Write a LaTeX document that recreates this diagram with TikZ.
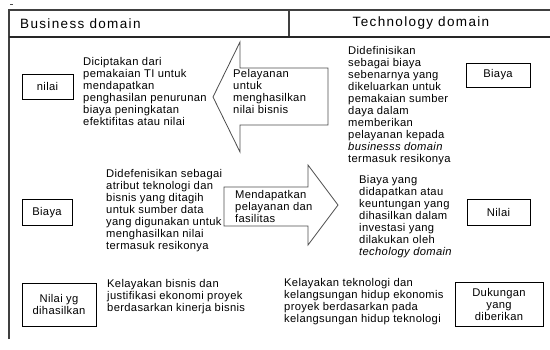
\documentclass[tikz,border=0pt]{standalone}
\usepackage{fontspec}
\setmainfont{Liberation Sans}
\begin{document}
\begin{tikzpicture}[x=1pt,y=-1pt,
  bodyfont/.style={font=\fontsize{11.2}{12}\selectfont\addfontfeatures{LetterSpace=3}},
  txt/.style={bodyfont, inner sep=0pt, align=left, anchor=north west},
  hdr/.style={inner sep=0pt, font=\fontsize{13.5}{14}\selectfont\addfontfeatures{LetterSpace=10}},
  lbox/.style={bodyfont, draw=black, line width=0.8pt, inner sep=0pt, align=center},
  frameline/.style={draw=black!75, line width=1.2pt},
  arrowshape/.style={draw=black!70, line width=0.8pt, line join=miter}]
\useasboundingbox (0,0) rectangle (550,349);
% frame
\draw[frameline] (9,339) -- (9,10) -- (550,10);
\draw[draw=black!85, line width=2pt] (9,36.5) -- (550,36.5);
\draw[frameline] (289,10) -- (289,36);
\draw[black!70, line width=0.8pt] (10,4) -- (13,4);
% headers
\node[hdr, anchor=west] (bd) at (20,23.5) {Business domain};
\node[hdr] (td) at (421,23.5) {Technology domain};
% boxes
\node[lbox, minimum width=51, minimum height=25] (nilai1) at (47.5,86.5) {nilai};
\node[lbox, minimum width=64, minimum height=24] (biaya1) at (498,75) {Biaya};
\node[lbox, minimum width=50, minimum height=26] (biaya2) at (47,212.5) {Biaya};
\node[lbox, minimum width=63, minimum height=26] (nilai2) at (498.5,212.5) {Nilai};
\node[lbox, minimum width=74, minimum height=43] (nilaiyg) at (59,304.5) {Nilai yg\\dihasilkan};
\node[lbox, minimum width=88, minimum height=44] (dukungan) at (499,304) {Dukungan\\yang\\diberikan};
% arrows
\draw[arrowshape] (328,68) -- (240,68) -- (240,42) -- (213,97) -- (240,152) -- (240,125) -- (328,125) -- cycle;
\draw[arrowshape] (224,187) -- (308,187) -- (308,165) -- (338,205) -- (308,245) -- (308,226) -- (224,226) -- cycle;
% texts
\node[txt] (t1) at (83,57) {Diciptakan dari\\pemakaian TI untuk\\mendapatkan\\penghasilan penurunan\\biaya peningkatan\\efektifitas atau nilai};
\node[txt] (t2) at (233,69) {Pelayanan\\untuk\\menghasilkan\\nilai bisnis};
\node[txt] (t3) at (348,46) {Didefinisikan\\sebagai biaya\\sebenarnya yang\\dikeluarkan untuk\\pemakaian sumber\\daya dalam\\memberikan\\pelayanan kepada\\\textit{businesss domain}\\termasuk resikonya};
\node[txt] (t4) at (106,169) {Didefenisikan sebagai\\atribut teknologi dan\\bisnis yang ditagih\\untuk sumber data\\yang digunakan untuk\\menghasilkan nilai\\termasuk resikonya};
\node[txt] (t5) at (235,190) {Mendapatkan\\pelayanan dan\\fasilitas};
\node[txt] (t6) at (359,175) {Biaya yang\\didapatkan atau\\keuntungan yang\\dihasilkan dalam\\investasi yang\\dilakukan oleh\\\textit{techology domain}};
\node[txt] (t7) at (107,279) {Kelayakan bisnis dan\\justifikasi ekonomi proyek\\berdasarkan kinerja bisnis};
\node[txt] (t8) at (284,278) {Kelayakan teknologi dan\\kelangsungan hidup ekonomis\\proyek berdasarkan pada\\kelangsungan hidup teknologi};
\end{tikzpicture}
\end{document}
